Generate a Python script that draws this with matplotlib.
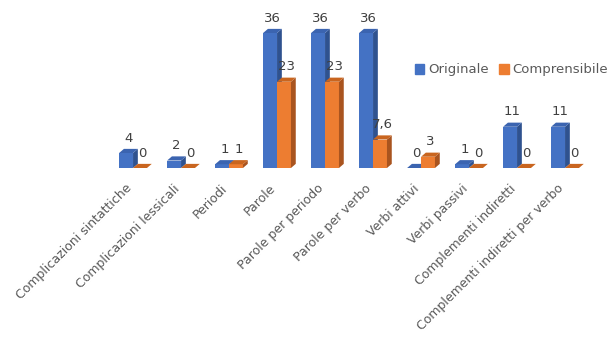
import matplotlib
matplotlib.use("Agg")
import matplotlib.pyplot as plt
import matplotlib.transforms as mtransforms
from matplotlib.patches import Polygon, Patch

categorie = ["Complicazioni sintattiche", "Complicazioni lessicali", "Periodi", "Parole",
             "Parole per periodo", "Parole per verbo", "Verbi attivi", "Verbi passivi",
             "Complementi indiretti", "Complementi indiretti per verbo"]
originale = [4, 2, 1, 36, 36, 36, 0, 1, 11, 11]
comprensibile = [0, 0, 1, 23, 23, 7.6, 3, 0, 0, 0]
etichette_orig = ["4", "2", "1", "36", "36", "36", "0", "1", "11", "11"]
etichette_compr = ["0", "0", "1", "23", "23", "7,6", "3", "0", "0", "0"]

col_front = {"o": "#4472C4", "c": "#ED7D31"}
col_side = {"o": "#2F528F", "c": "#A9541F"}
col_top = {"o": "#3B64B0", "c": "#C9651F"}

fig = plt.figure(figsize=(6.11, 3.62), dpi=100)
ax = fig.add_axes([110/611, (362-168)/362, 480/611, (168-10)/362])
ax.set_xlim(-0.5, 9.5)
ax.set_ylim(0, (168-10)/3.75)

w = 0.29
dx = 0.1
dy = 1.1

def bar3d(x0, h, key, lab):
    ax.bar(x0, h, width=w, align="edge", color=col_front[key], zorder=2)
    side = Polygon([(x0+w, 0), (x0+w+dx, dy), (x0+w+dx, h+dy), (x0+w, h)],
                   closed=True, color=col_side[key], zorder=2, lw=0)
    top = Polygon([(x0, h), (x0+dx, h+dy), (x0+w+dx, h+dy), (x0+w, h)],
                  closed=True, color=col_top[key], zorder=2, lw=0)
    ax.add_patch(side)
    ax.add_patch(top)
    ax.annotate(lab, (x0 + (w+dx)/2, h + dy), xytext=(0, 3), textcoords="offset points",
                ha="center", va="bottom", fontsize=9.5, color="#404040")

for i in range(len(categorie)):
    bar3d(i - 0.31, originale[i], "o", etichette_orig[i])
    bar3d(i - 0.02, comprensibile[i], "c", etichette_compr[i])

ax.set_xticks(range(len(categorie)))
ax.set_xticklabels(categorie, rotation=45, ha="right", rotation_mode="anchor",
                   fontsize=9, color="#595959")
ax.tick_params(axis="x", length=0, pad=10)
shift = mtransforms.ScaledTranslation(-9/100, 0, fig.dpi_scale_trans)
for t in ax.get_xticklabels():
    t.set_transform(t.get_transform() + shift)
ax.set_yticks([])
for s in ax.spines.values():
    s.set_visible(False)

handles = [Patch(color=col_front["o"], label="Originale"),
           Patch(color=col_front["c"], label="Comprensibile")]
fig.legend(handles=handles, loc="center left", bbox_to_anchor=(415/611, 1 - 70/362),
           ncol=2, frameon=False, fontsize=9.5, handlelength=0.7, handleheight=0.7,
           handletextpad=0.3, columnspacing=0.8, labelcolor="#595959",
           borderaxespad=0, borderpad=0)

fig.savefig("out.png", dpi=100)
